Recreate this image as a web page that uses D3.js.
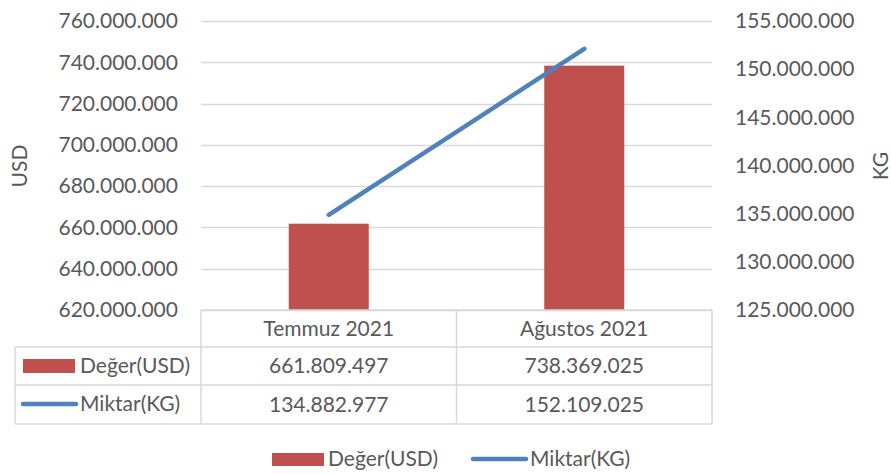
<!DOCTYPE html>
<html><head><meta charset="utf-8">
<script src="https://cdn.jsdelivr.net/npm/d3@7"></script>
<style>body{margin:0;background:#fff}svg{display:block}text{font-family:Lato,"Open Sans",sans-serif;fill:#595959}</style>
</head><body><svg id="c" width="891" height="474"></svg>
<script>
const categories = ["Temmuz 2021", "Ağustos 2021"];
const valueUSD = [661809497, 738369025];
const quantityKG = [134882977, 152109025];
const leftTicks = [620e6, 640e6, 660e6, 680e6, 700e6, 720e6, 740e6, 760e6];
const rightTicks = [125e6, 130e6, 135e6, 140e6, 145e6, 150e6, 155e6];
const seriesNames = ["Değer(USD)", "Miktar(KG)"];

const svg = d3.select("#c");
const fs = 21;
const L = 201, R = 712, T = 21, B = 310;
const red = "#c0504d", blue = "#4f81bd", grid = "#d9d9d9";
const fmt = v => d3.format(",")(v).replace(/,/g, ".");

const x = d3.scaleBand().domain(categories).range([L, R]).padding(0);
const yL = d3.scaleLinear().domain([620e6, 760e6]).range([B, T]);
const yR = d3.scaleLinear().domain([125e6, 155e6]).range([B, T]);

// gridlines
svg.append("g").selectAll("line").data(leftTicks).join("line")
  .attr("x1", L).attr("x2", R).attr("y1", d => Math.round(yL(d)) + 0.5).attr("y2", d => Math.round(yL(d)) + 0.5)
  .attr("stroke", grid).attr("stroke-width", 1.3);

// left axis labels
const gl = svg.append("g").attr("transform", `translate(${L},0)`)
  .call(d3.axisLeft(yL).tickValues(leftTicks).tickFormat(fmt).tickSize(0).tickPadding(23));
gl.select(".domain").remove();
gl.selectAll("text").attr("font-size", fs).attr("fill", "#595959").style("font-family", "Lato");

const gr = svg.append("g").attr("transform", `translate(${R},0)`)
  .call(d3.axisRight(yR).tickValues(rightTicks).tickFormat(fmt).tickSize(0).tickPadding(23));
gr.select(".domain").remove();
gr.selectAll("text").attr("font-size", fs).attr("fill", "#595959").style("font-family", "Lato");

// bars
const bw = 80;
svg.append("g").selectAll("rect").data(categories).join("rect")
  .attr("x", (d) => x(d) + x.bandwidth() / 2 - bw / 2)
  .attr("y", (d, i) => yL(valueUSD[i]))
  .attr("width", bw)
  .attr("height", (d, i) => B - yL(valueUSD[i]))
  .attr("fill", red);

// line
const line = d3.line().x((d, i) => x(categories[i]) + x.bandwidth() / 2).y(d => yR(d));
svg.append("path").datum(quantityKG).attr("d", line)
  .attr("fill", "none").attr("stroke", blue).attr("stroke-width", 4.5).attr("stroke-linecap", "round");

// axis titles
svg.append("text").attr("transform", "translate(27,166) rotate(-90)").attr("text-anchor", "middle")
  .attr("font-size", fs).text("USD");
svg.append("text").attr("transform", "translate(888,166) rotate(-90)").attr("text-anchor", "middle")
  .attr("font-size", fs).text("KG");

// data table
const rows = [310, 347, 385, 424];
const tb = svg.append("g").attr("stroke", grid).attr("stroke-width", 1.5).attr("fill", "none");
tb.append("line").attr("x1", L).attr("x2", R).attr("y1", rows[0]).attr("y2", rows[0]);
[1, 2, 3].forEach(i => tb.append("line").attr("x1", 15).attr("x2", R).attr("y1", rows[i]).attr("y2", rows[i]));
tb.append("line").attr("x1", 15).attr("x2", 15).attr("y1", rows[1]).attr("y2", rows[3]);
[L, x(categories[1]), R].forEach(xx => tb.append("line").attr("x1", xx).attr("x2", xx).attr("y1", rows[0]).attr("y2", rows[3]));

const tt = svg.append("g").attr("font-size", fs).attr("text-anchor", "middle");
categories.forEach((c, i) => {
  const cx = x(c) + x.bandwidth() / 2;
  tt.append("text").attr("x", cx).attr("y", (rows[0] + rows[1]) / 2).attr("dy", "0.35em").text(c);
  tt.append("text").attr("x", cx).attr("y", (rows[1] + rows[2]) / 2).attr("dy", "0.35em").text(fmt(valueUSD[i]));
  tt.append("text").attr("x", cx).attr("y", (rows[2] + rows[3]) / 2).attr("dy", "0.35em").text(fmt(quantityKG[i]));
});
// legend keys in table
svg.append("rect").attr("x", 23).attr("y", 359).attr("width", 52).attr("height", 14).attr("fill", red);
svg.append("text").attr("x", 80).attr("y", 366).attr("dy", "0.35em").attr("font-size", fs).text(seriesNames[0]);
svg.append("line").attr("x1", 23).attr("x2", 76).attr("y1", 404).attr("y2", 404).attr("stroke", blue).attr("stroke-width", 4.5).attr("stroke-linecap", "round");
svg.append("text").attr("x", 80).attr("y", 404).attr("dy", "0.35em").attr("font-size", fs).text(seriesNames[1]);

// bottom legend
svg.append("rect").attr("x", 272).attr("y", 453).attr("width", 52).attr("height", 13).attr("fill", red);
svg.append("text").attr("x", 328).attr("y", 459).attr("dy", "0.35em").attr("font-size", fs).text(seriesNames[0]);
svg.append("line").attr("x1", 473).attr("x2", 526).attr("y1", 459).attr("y2", 459).attr("stroke", blue).attr("stroke-width", 4.5).attr("stroke-linecap", "round");
svg.append("text").attr("x", 530).attr("y", 459).attr("dy", "0.35em").attr("font-size", fs).text(seriesNames[1]);
</script></body></html>
